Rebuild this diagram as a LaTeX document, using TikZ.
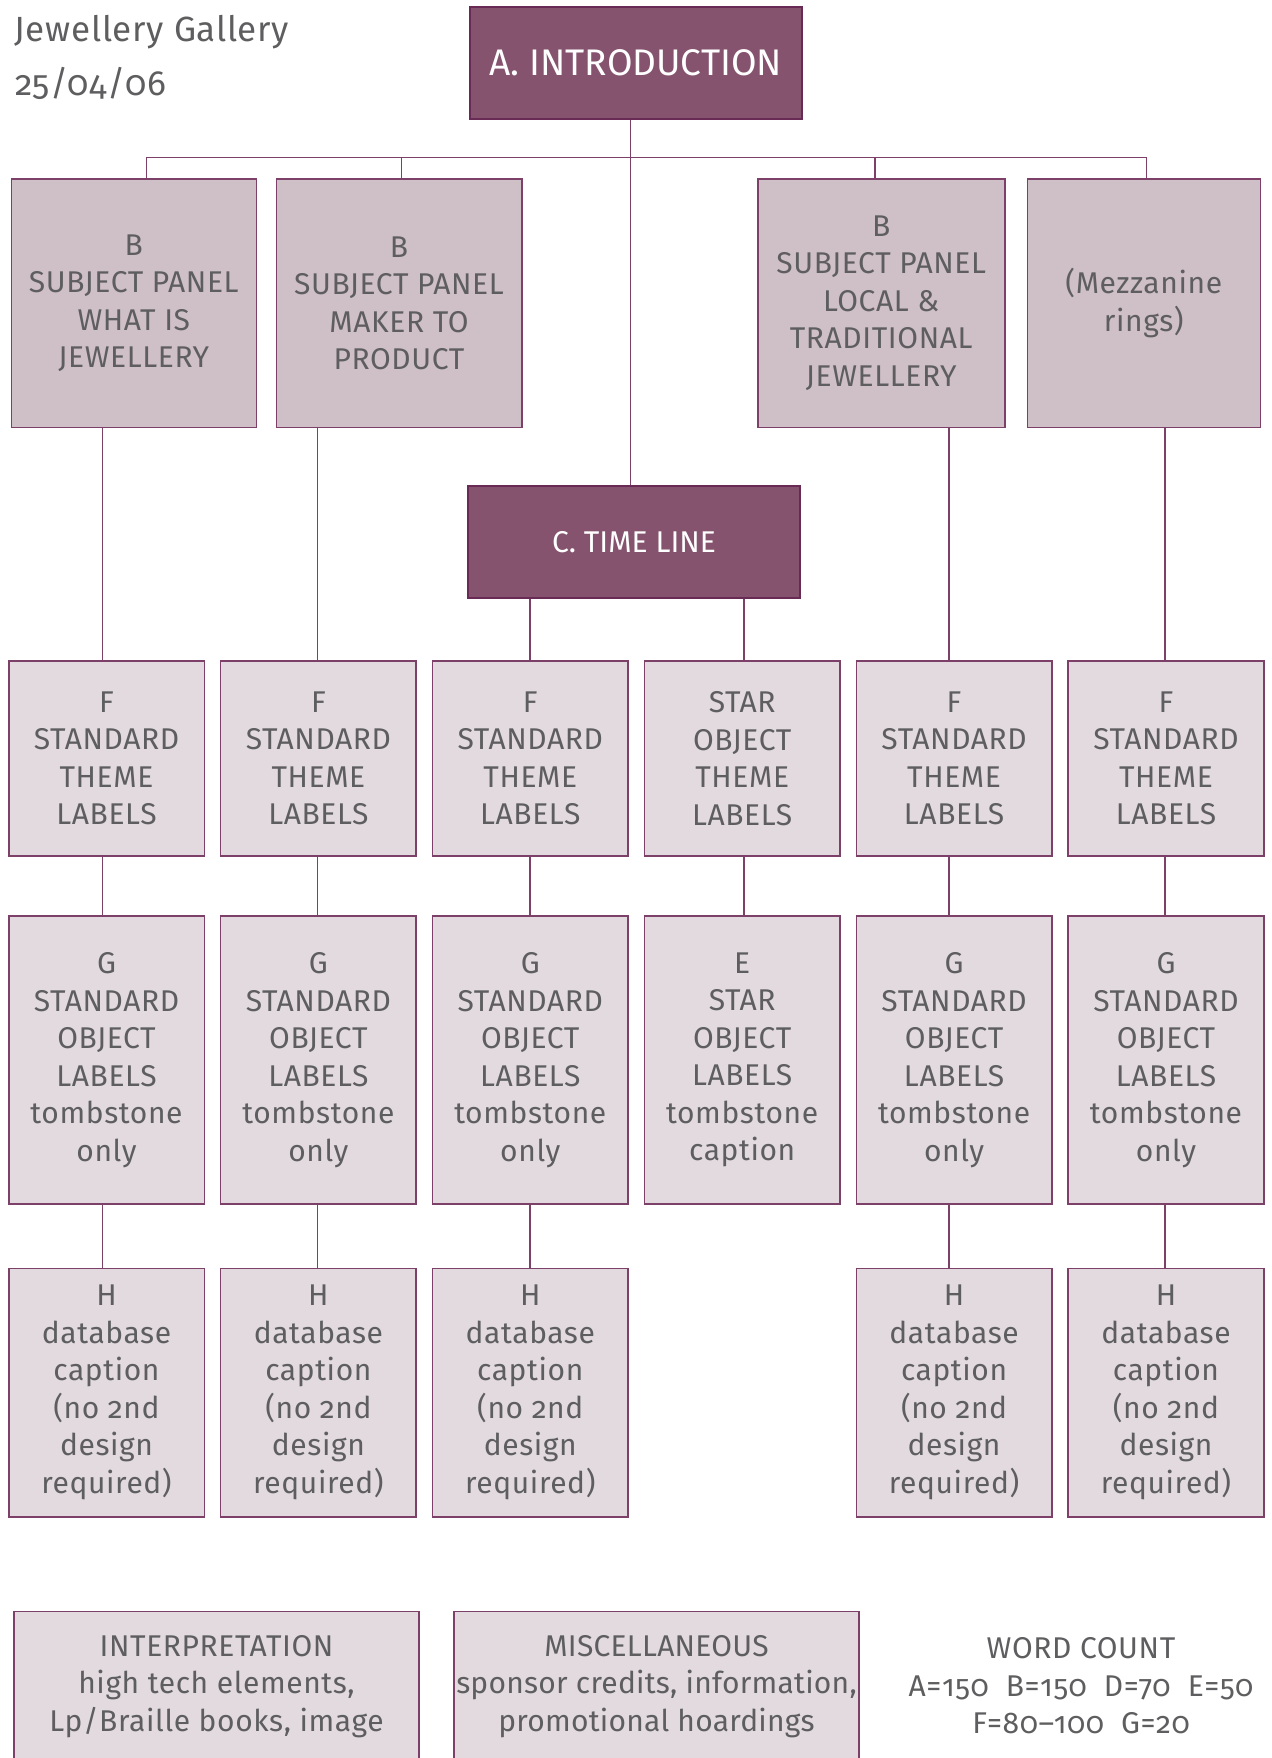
\documentclass[tikz,border=0pt]{standalone}
\usepackage{fontspec}
\setmainfont{Fira Sans}[Numbers=OldStyle, LetterSpace=2]
\newfontfamily\headfont{Fira Sans}[Numbers=OldStyle]
\newfontfamily\miscfont{Fira Sans}[Numbers=OldStyle, LetterSpace=0.8]
\definecolor{plum}{HTML}{85536E}
\definecolor{plumd}{HTML}{6A2A56}
\definecolor{bfill}{HTML}{CFBFC7}
\definecolor{lfill}{HTML}{E2DADF}
\definecolor{linec}{HTML}{7C4069}
\definecolor{txt}{HTML}{5E5E60}
\newcommand\boxfont{\fontsize{15}{18.75}\selectfont}
\begin{document}
\begin{tikzpicture}[x=0.5pt,y=-0.5pt,
  conn/.style={draw=linec, line width=0.75pt},
  box/.style={draw=linec, line width=0.8pt, inner sep=0pt, align=center, text=txt, font=\boxfont},
  darkbox/.style={box, fill=plum, draw=plumd, text=white},
  bbox/.style={box, fill=bfill, minimum height=124.15pt},
  colbox/.style={box, fill=lfill, minimum width=97.8pt},
  rowf/.style={colbox, minimum height=97.35pt},
  rowg/.style={colbox, minimum height=144pt},
  rowh/.style={colbox, minimum height=124.2pt},
  plain/.style={inner sep=0pt, text=txt},
]
\useasboundingbox (0,0) rectangle (1272,1758);
\clip (0,0) rectangle (1272,1758);

% title
\node[plain, anchor=base west, font=\fontsize{17.5}{21}\selectfont] (t1) at (14,41.7) {Jewellery Gallery};
\node[plain, anchor=base west, font=\fontsize{17.5}{21}\selectfont] (t2) at (15,95) {25/04/06};

% top level
\node[darkbox, minimum width=165.85pt, minimum height=56.15pt, font=\headfont\fontsize{18.5}{22}\selectfont] (A) at (635.9,62.9) {A. INTRODUCTION};
\node[darkbox, minimum width=166pt, minimum height=56pt, font=\headfont\fontsize{15}{18}\selectfont] (C) at (634,541.7) {C. TIME LINE};

% B panels
\node[bbox, minimum width=122.5pt] (B1) at (133.8,303.2) {B\\SUBJECT PANEL\\WHAT IS\\JEWELLERY};
\node[bbox, minimum width=122.7pt] (B2) at (399,303.2) {B\\SUBJECT PANEL\\MAKER TO\\PRODUCT};
\node[bbox, minimum width=123.5pt] (B3) at (881.2,303.2) {B\\SUBJECT PANEL\\LOCAL \&\\TRADITIONAL\\JEWELLERY};
\node[bbox, minimum width=116.5pt] (B4) at (1143.8,303.2) {(Mezzanine\\rings)};

% F row
\node[rowf] (F1) at (106.5,758.4) {F\\STANDARD\\THEME\\LABELS};
\node[rowf] (F2) at (318.4,758.4) {F\\STANDARD\\THEME\\LABELS};
\node[rowf] (F3) at (530.3,758.4) {F\\STANDARD\\THEME\\LABELS};
\node[rowf] (F4) at (742.2,758.4) {STAR\\OBJECT\\THEME\\LABELS};
\node[rowf] (F5) at (954.1,758.4) {F\\STANDARD\\THEME\\LABELS};
\node[rowf] (F6) at (1166,758.4) {F\\STANDARD\\THEME\\LABELS};

% G row
\node[rowg] (G1) at (106.5,1060) {G\\STANDARD\\OBJECT\\LABELS\\tombstone\\only};
\node[rowg] (G2) at (318.4,1060) {G\\STANDARD\\OBJECT\\LABELS\\tombstone\\only};
\node[rowg] (G3) at (530.3,1060) {G\\STANDARD\\OBJECT\\LABELS\\tombstone\\only};
\node[rowg] (G4) at (742.2,1060) {E\\STAR\\OBJECT\\LABELS\\tombstone\\caption};
\node[rowg] (G5) at (954.1,1060) {G\\STANDARD\\OBJECT\\LABELS\\tombstone\\only};
\node[rowg] (G6) at (1166,1060) {G\\STANDARD\\OBJECT\\LABELS\\tombstone\\only};

% H row
\node[rowh] (H1) at (106.5,1392.5) {H\\database\\caption\\(no 2nd\\design\\required)};
\node[rowh] (H2) at (318.4,1392.5) {H\\database\\caption\\(no 2nd\\design\\required)};
\node[rowh] (H3) at (530.3,1392.5) {H\\database\\caption\\(no 2nd\\design\\required)};
\node[rowh] (H5) at (954.1,1392.5) {H\\database\\caption\\(no 2nd\\design\\required)};
\node[rowh] (H6) at (1166,1392.5) {H\\database\\caption\\(no 2nd\\design\\required)};

% bottom
\node[box, fill=lfill, minimum width=202.75pt, minimum height=75pt] (I) at (216.5,1686.5) {INTERPRETATION\\high tech elements,\\Lp/Braille books, image};
\node[box, fill=lfill, minimum width=202.5pt, minimum height=75pt, font=\miscfont\boxfont] (M) at (656.5,1686.5) {MISCELLANEOUS\\sponsor credits, information,\\promotional hoardings};
\node[plain, align=center, font=\boxfont] (W) at (1081,1686) {WORD COUNT\\A=150~~B=150~~D=70~~E=50\\F=80–100~~G=20};

% connectors
\coordinate (J) at (630.7,157.5);
\coordinate (D1) at (146.7,157.5);
\coordinate (D2) at (401.7,157.5);
\coordinate (D3) at (875,157.5);
\coordinate (D4) at (1146.3,157.5);
\coordinate (X1) at (102.7,0);
\coordinate (X2) at (317.7,0);
\coordinate (X3) at (530,0);
\coordinate (X4) at (744,0);
\coordinate (X5) at (949,0);
\coordinate (X6) at (1165,0);

\draw[conn] (A.south -| J) -- (C.north -| J);
\draw[conn] (B1.north -| D1) -- (D1) -- (D4) -- (B4.north -| D4);
\draw[conn] (D2) -- (B2.north -| D2);
\draw[conn] (D3) -- (B3.north -| D3);

\draw[conn] (B1.south -| X1) -- (F1.north -| X1);
\draw[conn] (B2.south -| X2) -- (F2.north -| X2);
\draw[conn] (C.south -| X3) -- (F3.north -| X3);
\draw[conn] (C.south -| X4) -- (F4.north -| X4);
\draw[conn] (B3.south -| X5) -- (F5.north -| X5);
\draw[conn] (B4.south -| X6) -- (F6.north -| X6);

\foreach \i in {1,...,6} {
  \draw[conn] (F\i.south -| X\i) -- (G\i.north -| X\i);
}
\foreach \i in {1,2,3,5,6} {
  \draw[conn] (G\i.south -| X\i) -- (H\i.north -| X\i);
}
\end{tikzpicture}
\end{document}
